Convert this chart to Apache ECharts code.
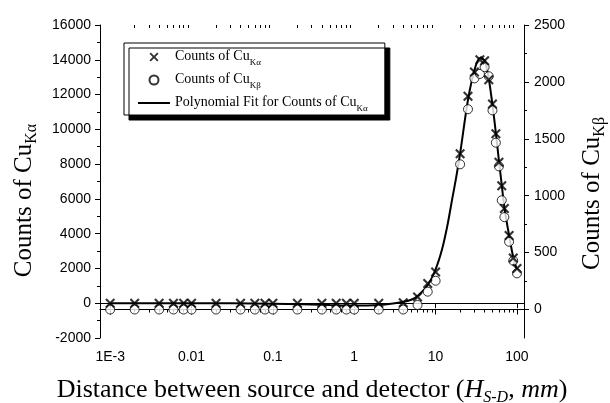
<!DOCTYPE html>
<html>
<head>
<meta charset="utf-8">
<script src="https://cdn.jsdelivr.net/npm/echarts@6/dist/echarts.min.js"></script>
<style>
  html, body { margin: 0; padding: 0; background: #fff; }
  #main { width: 610px; height: 403px; }
</style>
</head>
<body>
<div id="main"></div>
<script>
// source-detector distance H_S-D (mm), log axis
const distance = [0.001, 0.002, 0.004, 0.006, 0.008, 0.01, 0.02, 0.04, 0.06, 0.08, 0.1,
  0.2, 0.4, 0.6, 0.8, 1, 2, 4, 6, 8, 10, 20, 25, 30, 35, 40, 45, 50, 55, 60, 65, 70, 80, 90, 100];
// counts of Cu K-alpha (left axis)
const countsKa = [0, 0, 0, 0, 0, 0, 0, 0, 0, 0, 0,
  0, 0, 0, 0, 0, 0, 30, 360, 1130, 1800, 8600, 11900, 13300, 14000, 13950, 12850, 11450, 9750, 8100, 6750, 5450, 3900, 2600, 2000];
// counts of Cu K-beta (right axis)
const countsKb = [0, 0, 0, 0, 0, 0, 0, 0, 0, 0, 0,
  0, 0, 0, 0, 0, 0, 0, 40, 157, 253, 1276, 1760, 2031, 2070, 2130, 2050, 1750, 1466, 1258, 960, 812, 596, 429, 318];
// polynomial fit curve
const fitX = [0.001, 0.01, 0.1, 0.5, 1, 2, 3, 4, 5, 6, 8, 10, 12, 14, 16, 18, 20, 25, 30, 35, 40, 45, 50, 55, 60, 65, 70, 80, 90, 100];
const fitY = [0, 0, -30, -100, -130, -100, -20, 80, 200, 420, 1050, 1950, 3100, 4500, 6000, 7300, 8600, 11700, 13400, 14100, 13950, 12900, 11400, 9800, 8200, 6800, 5500, 3900, 2650, 1950];

const xTicks = [0.001, 0.01, 0.1, 1, 10, 100];
const kbTicks = [0, 500, 1000, 1500, 2000, 2500];
const kbMinorTicks = [250, 750, 1250, 1750, 2250];
const xMinorTicks = [];
for (const d of [0.001, 0.01, 0.1, 1, 10]) {
  for (let k = 2; k <= 9; k++) xMinorTicks.push(+(d * k).toPrecision(3));
}

const legendText = {
  Ka: '{t|Counts of Cu}{s|Kα}',
  Kb: '{t|Counts of Cu}{s|Kβ}',
  Fit: '{t|Polynomial Fit for Counts of Cu}{s|Kα}'
};

const crossPath = 'path://M0,1.5L1.5,0L5,3.5L8.5,0L10,1.5L6.5,5L10,8.5L8.5,10L5,6.5L1.5,10L0,8.5L3.5,5Z';
const serif = 'Liberation Serif';
const sans = 'Liberation Sans';
const labelStyle = { fontFamily: sans, fontSize: 14, color: '#000' };
const nameRich = {
  t: { fontFamily: serif, fontSize: 25, lineHeight: 29, verticalAlign: 'top', color: '#000' },
  i: { fontFamily: serif, fontStyle: 'italic', fontSize: 25, lineHeight: 29, verticalAlign: 'top', color: '#000' },
  s: { fontFamily: serif, fontSize: 16, lineHeight: 16, padding: [12, 0, 0, 0], verticalAlign: 'top', color: '#000' },
  si: { fontFamily: serif, fontStyle: 'italic', fontSize: 16, lineHeight: 16, padding: [13, 0, 0, 0], verticalAlign: 'top', color: '#000' }
};
const xNameRich = {
  t: Object.assign({}, nameRich.t, { fontSize: 26 }),
  i: Object.assign({}, nameRich.i, { fontSize: 26 }),
  si: nameRich.si
};
const line = { show: true, lineStyle: { color: '#000', width: 1 } };
const plain = v => String(v);

const xMin = 7.5e-4, xMax = 122;
function logAxis(extra) {
  return Object.assign({
    type: 'log', min: xMin, max: xMax, gridIndex: 0,
    axisLine: { show: false }, axisLabel: { show: false }, splitLine: { show: false }
  }, extra);
}

const chart = echarts.init(document.getElementById('main'));
chart.setOption({
  animation: false,
  grid: { left: 100, right: 86, top: 25, bottom: 65, outerBoundsMode: 'none', containLabel: false },
  legend: {
    data: ['Ka', 'Kb', {
      name: 'Fit',
      itemStyle: { color: 'rgba(0,0,0,0)', borderColor: 'rgba(0,0,0,0)', opacity: 0 }
    }],
    orient: 'vertical',
    left: 124, top: 43,
    padding: [6, 17, 2, 13],
    itemWidth: 32, itemHeight: 9, itemGap: 5,
    backgroundColor: '#fff',
    borderColor: '#000', borderWidth: 1,
    shadowColor: '#000', shadowBlur: 0, shadowOffsetX: 5, shadowOffsetY: 5,
    formatter: n => legendText[n],
    textStyle: {
      rich: {
        t: { fontFamily: serif, fontSize: 14, lineHeight: 16, verticalAlign: 'top', color: '#000' },
        s: { fontFamily: serif, fontSize: 9, lineHeight: 9, padding: [9, 0, 0, 0], verticalAlign: 'top', color: '#000' }
      }
    }
  },
  xAxis: [
    logAxis({
      position: 'bottom', axisLine: line,
      name: '{t|Distance between source and detector (}{i|H}{si|S-D}{t|, }{i|mm}{t|)}',
      nameLocation: 'middle', nameGap: 39, nameTextStyle: { rich: xNameRich },
      axisTick: { show: true, length: 5, customValues: xTicks, lineStyle: { color: '#000' } },
      axisLabel: { show: true, customValues: xTicks, margin: 12, ...labelStyle,
        formatter: v => (v < 0.005 ? '1E-3' : String(+v.toPrecision(3))) }
    }),
    logAxis({
      position: 'bottom',
      axisTick: { show: true, length: 3, customValues: xMinorTicks, lineStyle: { color: '#000' } }
    }),
    logAxis({
      position: 'top', axisLine: line,
      axisTick: { show: true, inside: true, length: 5, customValues: xTicks, lineStyle: { color: '#000' } }
    }),
    logAxis({
      position: 'top',
      axisTick: { show: true, inside: true, length: 3, customValues: xMinorTicks, lineStyle: { color: '#000' } }
    })
  ],
  yAxis: [
    {
      type: 'value', position: 'left', min: -2000, max: 16000, interval: 2000,
      axisLine: line, splitLine: { show: false },
      axisTick: { show: true, length: 5, lineStyle: { color: '#000' } },
      minorTick: { show: true, splitNumber: 2, length: 3, lineStyle: { color: '#000' } },
      axisLabel: { margin: 9, ...labelStyle, formatter: plain },
      name: '{t|Counts of Cu}{s|Kα}',
      nameLocation: 'middle', nameGap: 59,
      nameTextStyle: { rich: nameRich, padding: [0, 38, 0, 0] }
    },
    {
      type: 'value', position: 'right', min: -250, max: 2500,
      axisLine: line, splitLine: { show: false },
      axisTick: { show: true, length: 5, customValues: kbTicks, lineStyle: { color: '#000' } },
      axisLabel: { margin: 10, customValues: kbTicks, ...labelStyle, formatter: plain },
      name: '{t|Counts of Cu}{s|Kβ}',
      nameLocation: 'middle', nameGap: 56,
      nameTextStyle: { rich: nameRich, padding: [0, 24, 0, 0] }
    },
    {
      type: 'value', position: 'right', min: -250, max: 2500,
      axisLine: { show: false }, splitLine: { show: false }, axisLabel: { show: false },
      axisTick: { show: true, length: 3, customValues: kbMinorTicks, lineStyle: { color: '#000' } }
    }
  ],
  series: [
    {
      name: 'Fit', type: 'line', xAxisIndex: 0, yAxisIndex: 0,
      data: fitX.map((x, i) => [x, fitY[i]]),
      symbol: 'none', smooth: 0.3, z: 2,
      lineStyle: { color: '#000', width: 2 }, itemStyle: { color: '#000' }
    },
    {
      name: 'Kb', type: 'scatter', xAxisIndex: 0, yAxisIndex: 1,
      data: distance.map((x, i) => [x, countsKb[i]]),
      symbol: 'circle', symbolSize: 9, z: 3,
      itemStyle: { color: '#fff', borderColor: '#000', borderWidth: 1 }
    },
    {
      name: 'Ka', type: 'scatter', xAxisIndex: 0, yAxisIndex: 0,
      data: distance.map((x, i) => [x, countsKa[i]]),
      symbol: crossPath, symbolSize: 10, z: 4,
      itemStyle: { color: '#000' }
    }
  ]
});
</script>
</body>
</html>
